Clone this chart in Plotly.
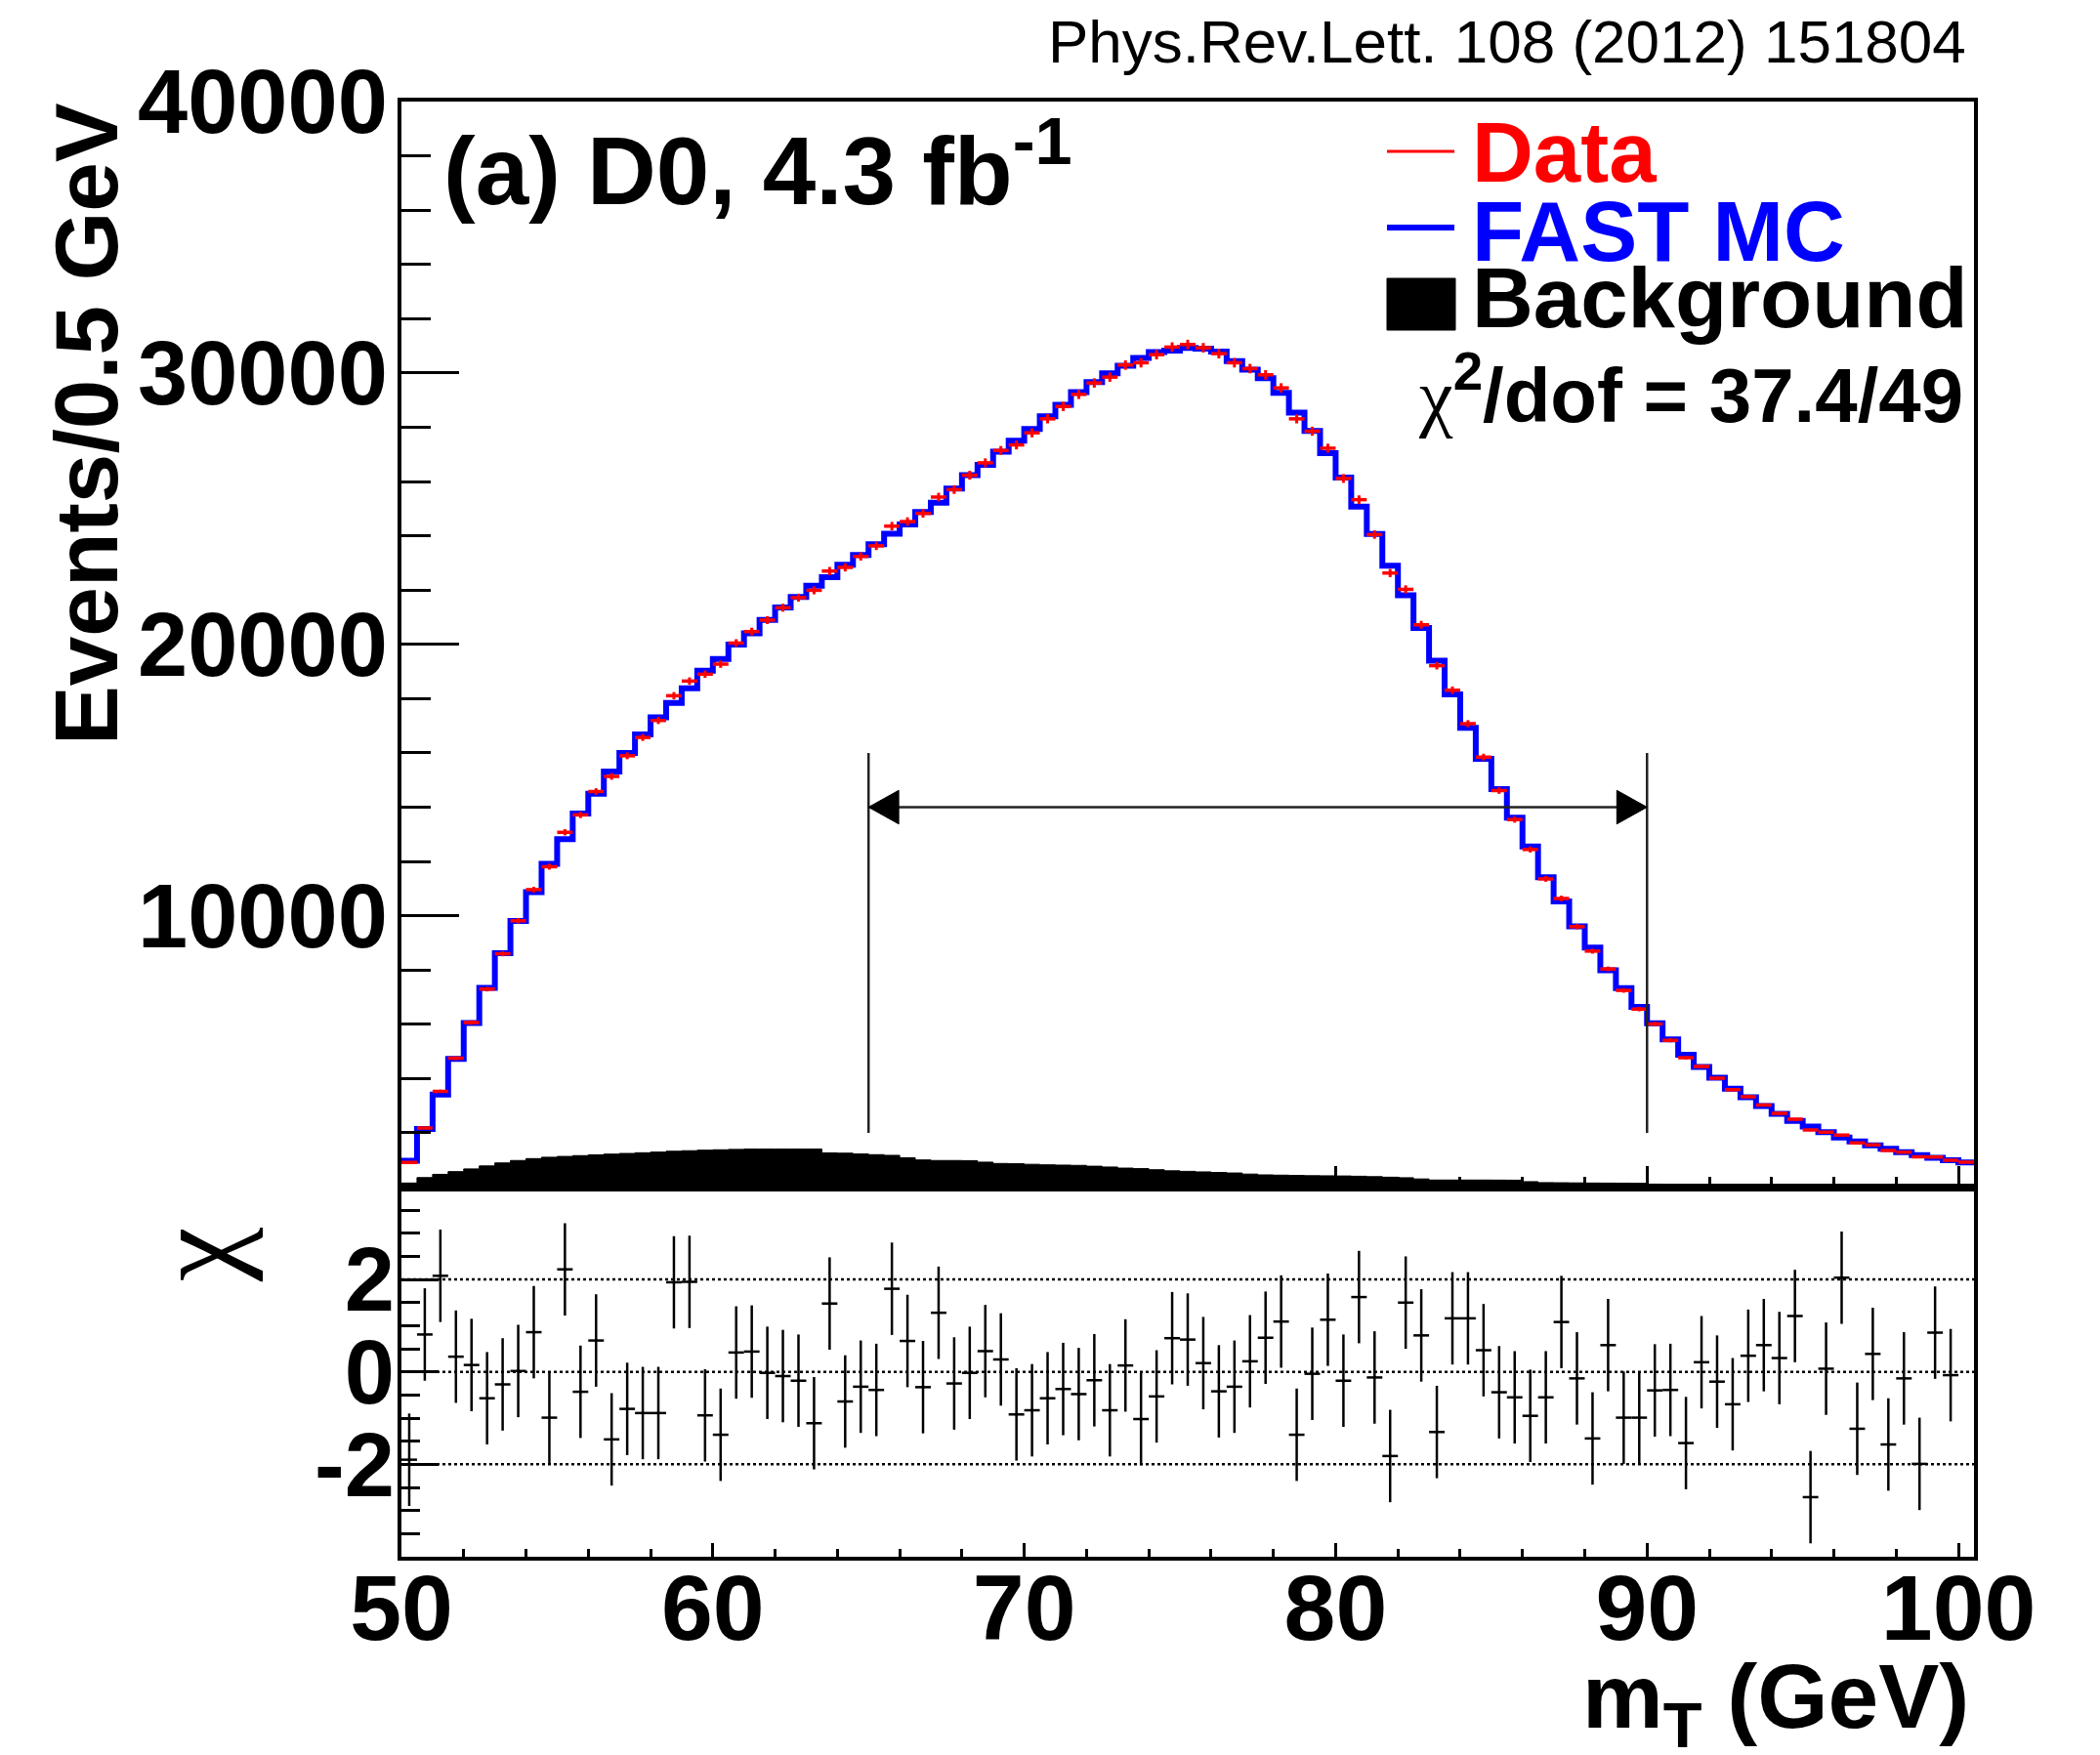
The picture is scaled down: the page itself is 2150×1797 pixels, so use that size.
import numpy as np
import plotly.graph_objects as go

W, H = 2150, 1797

# ---------------- data ----------------
BIN_START = 50.0
BIN_WIDTH = 0.5

data_counts = [912, 2179, 3530, 4746, 6063, 7296, 8597, 9813, 10961, 11806,
               13073, 13715, 14576, 15133, 15893, 16569, 17194, 18106, 18646, 18900,
               19271, 20048, 20471, 20893, 21349, 21721, 21991, 22700, 22835, 23240,
               23629, 24355, 24524, 24826, 25426, 25703, 26231, 26688, 27144, 27348,
               27793, 28309, 28766, 29210, 29631, 29847, 30291, 30376, 30675, 30953,
               31048, 30928, 30712, 30376, 30160, 29931, 29450, 28309, 27853, 27227,
               26111, 25330, 24045, 22627, 22026, 20720, 19213, 18309, 17076, 15843,
               14611, 13544, 12441, 11357, 10635, 9598, 8696, 8037, 7248, 6559,
               6009, 5411, 4772, 4444, 4017, 3588, 3330, 3022, 2716, 2499,
               2103, 2023, 1918, 1630, 1555, 1350, 1285, 1112, 1108, 988, 915]

mc_counts = [970, 2140, 3410, 4720, 6050, 7345, 8620, 9810, 10870, 11915,
             12820, 13765, 14494, 15313, 15994, 16684, 17311, 17844, 18379, 19029,
             19460, 19988, 20408, 20896, 21362, 21749, 22155, 22477, 22932, 23289,
             23689, 24074, 24419, 24878, 25222, 25743, 26234, 26615, 27100, 27500,
             27932, 28405, 28829, 29292, 29662, 29991, 30267, 30553, 30768, 30825,
             30925, 30895, 30786, 30432, 30120, 29803, 29263, 28537, 27860, 27041,
             26142, 25072, 24064, 22900, 21804, 20606, 19394, 18152, 16924, 15784,
             14664, 13608, 12547, 11416, 10524, 9612, 8830, 7985, 7332, 6639,
             6040, 5440, 4880, 4430, 4030, 3630, 3310, 2990, 2700, 2440,
             2230, 2020, 1830, 1680, 1540, 1410, 1290, 1180, 1080, 990, 910]

bkg_counts = [150, 350, 470, 570, 670, 780, 890, 980, 1050, 1100,
              1130, 1160, 1190, 1215, 1240, 1265, 1290, 1320, 1340, 1360,
              1375, 1390, 1400, 1400, 1400, 1400, 1400, 1260, 1250, 1220,
              1195, 1170, 1080, 1000, 980, 980, 975, 920, 870, 860,
              840, 820, 810, 800, 770, 740, 700, 680, 640, 600,
              580, 560, 540, 520, 480, 450, 440, 430, 420, 416,
              410, 400, 385, 365, 345, 300, 260, 260, 260, 260,
              258, 255, 200, 165, 160, 155, 150, 148, 145, 140,
              110, 80, 75, 70, 65, 60, 57, 54, 50, 48,
              45, 43, 41, 40, 38, 35, 32, 29, 26, 22, 18]

chi_values = [-1.90, 0.81, 2.08, 0.33, 0.15, -0.57, -0.27, 0.02, 0.86, -0.99,
              2.22, -0.43, 0.68, -1.46, -0.80, -0.89, -0.89, 1.94, 1.95, -0.94,
              -1.36, 0.42, 0.44, -0.02, -0.09, -0.19, -1.11, 1.48, -0.64, -0.32,
              -0.39, 1.80, 0.67, -0.33, 1.28, -0.25, -0.02, 0.45, 0.27, -0.92,
              -0.83, -0.57, -0.37, -0.48, -0.18, -0.83, 0.14, -1.02, -0.53, 0.73,
              0.70, 0.19, -0.42, -0.32, 0.23, 0.74, 1.09, -1.36, -0.04, 1.13,
              -0.19, 1.62, -0.12, -1.82, 1.50, 0.79, -1.30, 1.16, 1.16, 0.47,
              -0.44, -0.55, -0.95, -0.55, 1.08, -0.14, -1.44, 0.58, -0.99, -0.99,
              -0.40, -0.39, -1.54, 0.21, -0.21, -0.70, 0.35, 0.58, 0.30, 1.21,
              -2.71, 0.07, 2.04, -1.23, 0.39, -1.57, -0.14, -1.99, 0.85, -0.07]
chi_error = 1.0

y_tickvals = [10000, 20000, 30000, 40000]
y_ticktext = ["10000", "20000", "30000", "40000"]
x_tickvals = [50, 60, 70, 80, 90, 100]
x_ticktext = ["50", "60", "70", "80", "90", "100"]
chi_tickvals = [-2, 0, 2]
chi_ticktext = ["-2", "0", "2"]
chi_ref_lines = [2, 0, -2]

fit_window = [65, 90]
arrow_level = 14000
arrow_span = [2000, 16000]

X_RANGE = [50, 100.5]
Y_RANGE = [0, 40000]
CHI_RANGE = [-4, 4]

# ---------------- helpers ----------------
def px(x):
    return x / W

def py(y):
    return 1 - y / H

n = len(mc_counts)
edges = BIN_START + BIN_WIDTH * np.arange(n + 1)
centers = edges[:-1] + BIN_WIDTH / 2
step_x = edges
step_mc = mc_counts + [mc_counts[-1]]
step_bkg = bkg_counts + [bkg_counts[-1]]

FONT = "Liberation Sans"
SERIF = "Liberation Serif"

fig = go.Figure()

# background (filled black)
fig.add_trace(go.Scatter(
    x=step_x, y=step_bkg, mode="lines",
    line=dict(shape="hv", color="black", width=1),
    fill="tozeroy", fillcolor="black",
    xaxis="x", yaxis="y", hoverinfo="skip"))

# FAST MC
fig.add_trace(go.Scatter(
    x=step_x, y=step_mc, mode="lines",
    line=dict(shape="hv", color="#0000ff", width=6),
    xaxis="x", yaxis="y"))

# Data
fig.add_trace(go.Scatter(
    x=centers, y=data_counts, mode="markers",
    marker=dict(size=2, color="#ff0000"),
    error_x=dict(type="constant", value=BIN_WIDTH / 2, thickness=3.5, width=0, color="#ff0000"),
    error_y=dict(type="data", array=np.sqrt(np.array(data_counts, dtype=float)),
                 thickness=3, width=0, color="#ff0000"),
    xaxis="x", yaxis="y"))

# chi panel
fig.add_trace(go.Scatter(
    x=centers[:len(chi_values)], y=chi_values, mode="markers",
    marker=dict(size=3, color="black"),
    error_x=dict(type="constant", value=BIN_WIDTH / 2, thickness=2.5, width=0, color="black"),
    error_y=dict(type="constant", value=chi_error, thickness=2.5, width=0, color="black"),
    xaxis="x2", yaxis="y2"))

shapes = []
for v in chi_ref_lines:
    shapes.append(dict(type="line", xref="x2", yref="y2", x0=X_RANGE[0], x1=X_RANGE[1],
                       y0=v, y1=v, layer="below",
                       line=dict(color="black", width=2.5, dash="dot")))

# fit window arrow
lc = "#222222"
for xv in fit_window:
    shapes.append(dict(type="line", xref="x", yref="y", x0=xv, x1=xv,
                       y0=arrow_span[0], y1=arrow_span[1], line=dict(color=lc, width=2.5)))
shapes.append(dict(type="line", xref="x", yref="y", x0=fit_window[0], x1=fit_window[1],
                   y0=arrow_level, y1=arrow_level, line=dict(color=lc, width=2.5)))
head_len = 0.97      # GeV
head_half = 620      # events
a0, a1 = fit_window
shapes.append(dict(type="path", xref="x", yref="y",
                   path=f"M {a0},{arrow_level} L {a0 + head_len},{arrow_level + head_half} "
                        f"L {a0 + head_len},{arrow_level - head_half} Z",
                   fillcolor="black", line=dict(color="black", width=1)))
shapes.append(dict(type="path", xref="x", yref="y",
                   path=f"M {a1},{arrow_level} L {a1 - head_len},{arrow_level + head_half} "
                        f"L {a1 - head_len},{arrow_level - head_half} Z",
                   fillcolor="black", line=dict(color="black", width=1)))

# legend symbols
shapes.append(dict(type="line", xref="paper", yref="paper", x0=px(1420), x1=px(1489),
                   y0=py(155), y1=py(155), line=dict(color="#ff0000", width=3)))
shapes.append(dict(type="line", xref="paper", yref="paper", x0=px(1420), x1=px(1489),
                   y0=py(233), y1=py(233), line=dict(color="#0000ff", width=6)))
shapes.append(dict(type="rect", xref="paper", yref="paper", x0=px(1420), x1=px(1490),
                   y0=py(338), y1=py(285), fillcolor="black", line=dict(color="black", width=1)))

annotations = [
    dict(text="Phys.Rev.Lett. 108 (2012) 151804", x=px(2015), y=py(42), xanchor="right",
         yanchor="middle", font=dict(family=FONT, size=62, color="black")),
    dict(text="<b>(a) D0, 4.3 fb<sup>-1</sup></b>", x=px(452), y=py(168), xanchor="left",
         yanchor="middle", font=dict(family=FONT, size=98, color="black")),
    dict(text="<b>Data</b>", x=px(1505), y=py(155), xanchor="left", yanchor="middle",
         font=dict(family=FONT, size=87, color="#ff0000")),
    dict(text="<b>FAST MC</b>", x=px(1505), y=py(236), xanchor="left", yanchor="middle",
         font=dict(family=FONT, size=87, color="#0000ff")),
    dict(text="<b>Background</b>", x=px(1505), y=py(304), xanchor="left", yanchor="middle",
         font=dict(family=FONT, size=87, color="black")),
    dict(text="<span style='font-family:Liberation Serif;font-weight:normal'>χ</span>"
              "<b><sup>2</sup>/dof = 37.4/49</b>",
         x=px(2012), y=py(400), xanchor="right", yanchor="middle",
         font=dict(family=FONT, size=78, color="black")),
    dict(text="<b>Events/0.5 GeV</b>", x=px(89), y=py(103), xanchor="center", yanchor="top",
         textangle=-90, font=dict(family=FONT, size=91, color="black")),
    dict(text="<b>m<sub>T</sub> (GeV)</b>", x=px(2018), y=py(1744), xanchor="right",
         yanchor="middle", font=dict(family=FONT, size=93, color="black")),
    dict(text="χ", x=px(200), y=py(1285), xanchor="center", yanchor="middle",
         textangle=-90, font=dict(family=SERIF, size=125, color="black")),
]
for a in annotations:
    a.update(xref="paper", yref="paper", showarrow=False)

axis_base = dict(showline=True, linecolor="black", mirror=True, ticks="inside",
                 tickcolor="black", showgrid=False, zeroline=False, automargin=False)

xdom = [px(411), px(2021)]

fig.update_layout(
    width=W, height=H,
    margin=dict(l=0, r=0, t=0, b=0, pad=0),
    paper_bgcolor="white", plot_bgcolor="white",
    showlegend=False,
    xaxis=dict(axis_base, domain=xdom, range=X_RANGE, anchor="y",
               tickmode="array", tickvals=x_tickvals, showticklabels=False,
               ticklen=22, tickwidth=2.5, linewidth=3.5,
               minor=dict(tickmode="linear", tick0=50, dtick=2, ticklen=11, tickwidth=2.5,
                          ticks="inside", tickcolor="black", showgrid=False)),
    yaxis=dict(axis_base, domain=[py(1215.5), py(104)], range=Y_RANGE, anchor="x",
               tickmode="array", tickvals=y_tickvals, ticktext=y_ticktext,
               ticklen=59, tickwidth=3, linewidth=3.5, ticklabelstandoff=-8,
               tickfont=dict(family=FONT, size=92, color="black", weight="bold"),
               minor=dict(tickmode="linear", tick0=0, dtick=2000, ticklen=30, tickwidth=3,
                          ticks="inside", tickcolor="black", showgrid=False)),
    xaxis2=dict(axis_base, domain=xdom, range=X_RANGE, anchor="y2", matches="x",
                tickmode="array", tickvals=x_tickvals, ticktext=x_ticktext,
                ticklen=14, tickwidth=2.5, linewidth=4, ticklabelstandoff=-33,
                tickfont=dict(family=FONT, size=95, color="black", weight="bold"),
                minor=dict(tickmode="linear", tick0=50, dtick=2, ticklen=8, tickwidth=2.5,
                           ticks="inside", tickcolor="black", showgrid=False)),
    yaxis2=dict(axis_base, domain=[py(1594), py(1215.5)], range=CHI_RANGE, anchor="x2",
                tickmode="array", tickvals=chi_tickvals, ticktext=chi_ticktext,
                ticklen=38, tickwidth=2.5, linewidth=3.5, ticklabelstandoff=-15,
                tickfont=dict(family=FONT, size=92, color="black", weight="bold"),
                minor=dict(tickmode="linear", tick0=0, dtick=0.5, ticklen=19, tickwidth=2.5,
                           ticks="inside", tickcolor="black", showgrid=False)),
    shapes=shapes,
    annotations=annotations,
)

fig.write_html("out.html")
